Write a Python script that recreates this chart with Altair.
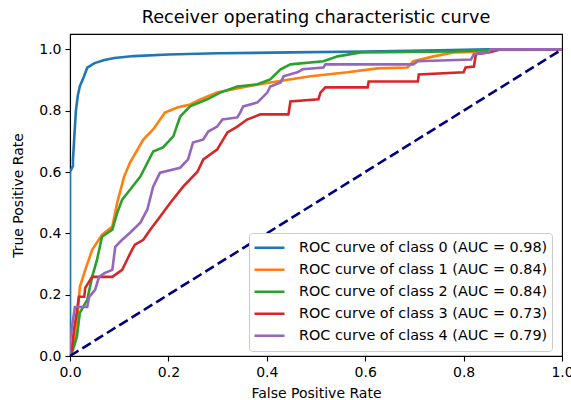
import altair as alt
import pandas as pd

# ROC curve vertices (fpr, tpr)
fpr0 = [0, 0, 0.006, 0.006, 0.012, 0.016, 0.02, 0.028, 0.035, 0.05, 0.07, 0.09, 0.13, 0.2, 0.3, 0.45, 0.6, 0.75, 0.85, 1.0]
tpr0 = [0, 0.6, 0.62, 0.64, 0.80, 0.85, 0.88, 0.91, 0.94, 0.955, 0.965, 0.972, 0.978, 0.983, 0.987, 0.99, 0.993, 0.997, 1.0, 1.0]

fpr1 = [0, 0.008, 0.014, 0.020, 0.031, 0.045, 0.065, 0.086, 0.096, 0.110, 0.122, 0.149, 0.169, 0.193, 0.218, 0.244, 0.265, 0.299, 0.360, 0.407, 0.489, 0.564, 0.625, 0.686, 0.698, 0.739, 0.780, 0.855, 0.875, 1.0]
tpr1 = [0, 0.042, 0.108, 0.225, 0.281, 0.346, 0.395, 0.422, 0.500, 0.585, 0.631, 0.706, 0.739, 0.794, 0.810, 0.820, 0.837, 0.859, 0.879, 0.892, 0.912, 0.925, 0.938, 0.941, 0.961, 0.977, 0.990, 0.993, 1.0, 1.0]

fpr2 = [0, 0.006, 0.014, 0.020, 0.035, 0.045, 0.055, 0.065, 0.086, 0.096, 0.106, 0.122, 0.143, 0.169, 0.189, 0.210, 0.224, 0.244, 0.279, 0.305, 0.340, 0.381, 0.407, 0.428, 0.448, 0.515, 0.544, 0.591, 0.780, 0.876, 1.0]
tpr2 = [0, 0.020, 0.062, 0.141, 0.183, 0.258, 0.314, 0.389, 0.412, 0.467, 0.510, 0.542, 0.585, 0.667, 0.680, 0.716, 0.781, 0.814, 0.837, 0.859, 0.879, 0.886, 0.902, 0.935, 0.951, 0.961, 0.977, 0.990, 0.993, 1.0, 1.0]

fpr3 = [0, 0.004, 0.008, 0.014, 0.018, 0.029, 0.031, 0.045, 0.086, 0.106, 0.116, 0.126, 0.132, 0.149, 0.163, 0.183, 0.204, 0.230, 0.259, 0.271, 0.299, 0.320, 0.340, 0.360, 0.387, 0.444, 0.448, 0.505, 0.509, 0.519, 0.605, 0.607, 0.707, 0.709, 0.800, 0.804, 0.821, 0.825, 0.851, 0.876, 1.0]
tpr3 = [0, 0.020, 0.085, 0.144, 0.193, 0.193, 0.222, 0.258, 0.258, 0.281, 0.314, 0.346, 0.363, 0.379, 0.412, 0.454, 0.500, 0.552, 0.601, 0.641, 0.673, 0.729, 0.748, 0.771, 0.788, 0.788, 0.830, 0.837, 0.859, 0.876, 0.876, 0.895, 0.895, 0.918, 0.925, 0.941, 0.944, 0.984, 0.990, 1.0, 1.0]

fpr4 = [0, 0, 0.004, 0.010, 0.035, 0.039, 0.051, 0.059, 0.071, 0.086, 0.092, 0.106, 0.122, 0.143, 0.157, 0.169, 0.183, 0.224, 0.240, 0.250, 0.271, 0.281, 0.299, 0.310, 0.340, 0.346, 0.352, 0.381, 0.401, 0.407, 0.428, 0.434, 0.462, 0.473, 0.515, 0.519, 0.698, 0.707, 0.815, 0.821, 0.851, 0.855, 1.0]
tpr4 = [0, 0.052, 0.095, 0.160, 0.160, 0.193, 0.216, 0.258, 0.271, 0.281, 0.356, 0.379, 0.402, 0.435, 0.477, 0.552, 0.598, 0.614, 0.641, 0.696, 0.706, 0.732, 0.748, 0.771, 0.778, 0.794, 0.814, 0.827, 0.859, 0.879, 0.892, 0.912, 0.925, 0.935, 0.941, 0.951, 0.951, 0.961, 0.967, 0.984, 0.990, 1.0, 1.0]

auc = [0.98, 0.84, 0.84, 0.73, 0.79]
colors = ["#1f77b4", "#ff7f0e", "#2ca02c", "#d62728", "#9467bd"]
diag_x = [0, 1]
diag_y = [0, 1]

series = [(fpr0, tpr0), (fpr1, tpr1), (fpr2, tpr2), (fpr3, tpr3), (fpr4, tpr4)]
rows = []
labels = []
for i, (fx, ty) in enumerate(series):
    lab = f"ROC curve of class {i} (AUC = {auc[i]:.2f})"
    labels.append(lab)
    for j, (a, b) in enumerate(zip(fx, ty)):
        rows.append({"fpr": a, "tpr": b, "curve": lab, "k": j})
df = pd.DataFrame(rows)
ddf = pd.DataFrame({"fpr": diag_x, "tpr": diag_y})

FONT = "DejaVu Sans"
xscale = alt.Scale(domain=[0, 1], nice=False, zero=False)
yscale = alt.Scale(domain=[0, 1.05], nice=False, zero=False)
ticks = [0, 0.2, 0.4, 0.6, 0.8, 1.0]

curves = alt.Chart(df).mark_line(strokeWidth=2.6, clip=True).encode(
    x=alt.X("fpr:Q", scale=xscale, title="False Positive Rate",
            axis=alt.Axis(values=ticks, format=".1f")),
    y=alt.Y("tpr:Q", scale=yscale, title="True Positive Rate",
            axis=alt.Axis(values=ticks, format=".1f")),
    color=alt.Color("curve:N", scale=alt.Scale(domain=labels, range=colors),
                    legend=alt.Legend(title=None, orient="none", legendX=179, legendY=199,
                                      symbolType="stroke", symbolSize=900, symbolStrokeWidth=2.6,
                                      labelFontSize=14.4, labelFont=FONT, labelColor="black",
                                      rowPadding=0, fillColor="white", strokeColor="#cccccc",
                                      cornerRadius=3, padding=4, labelOffset=13, labelLimit=400,
                                      clipHeight=21.5)),
    detail="curve:N",
    order="k:Q",
)

diag = alt.Chart(ddf).mark_line(color="navy", strokeWidth=2.6, strokeDash=[10, 4.5]).encode(
    x=alt.X("fpr:Q", scale=xscale),
    y=alt.Y("tpr:Q", scale=yscale),
)

chart = alt.layer(curves, diag).properties(
    width=492, height=322,
    title=alt.TitleParams("Receiver operating characteristic curve", fontSize=17.7,
                          font=FONT, fontWeight="normal", color="black", offset=7),
    autosize=alt.AutoSizeParams(type="none"),
    padding={"left": 70, "top": 34, "right": 9, "bottom": 44},
).configure_view(stroke="black", strokeWidth=1.1).configure_axis(
    grid=False, domainColor="black", tickColor="black", tickSize=5, tickWidth=1.1,
    domainWidth=1.1, labelFont=FONT, labelFontSize=14, labelColor="black",
    titleFont=FONT, titleFontSize=14, titleFontWeight="normal", titleColor="black",
    labelPadding=4, titlePadding=7, labelFlush=False, labelOverlap=False,
).configure_axisY(titlePadding=13)

chart.save("out.html", embed_options={"renderer": "svg", "actions": False})
